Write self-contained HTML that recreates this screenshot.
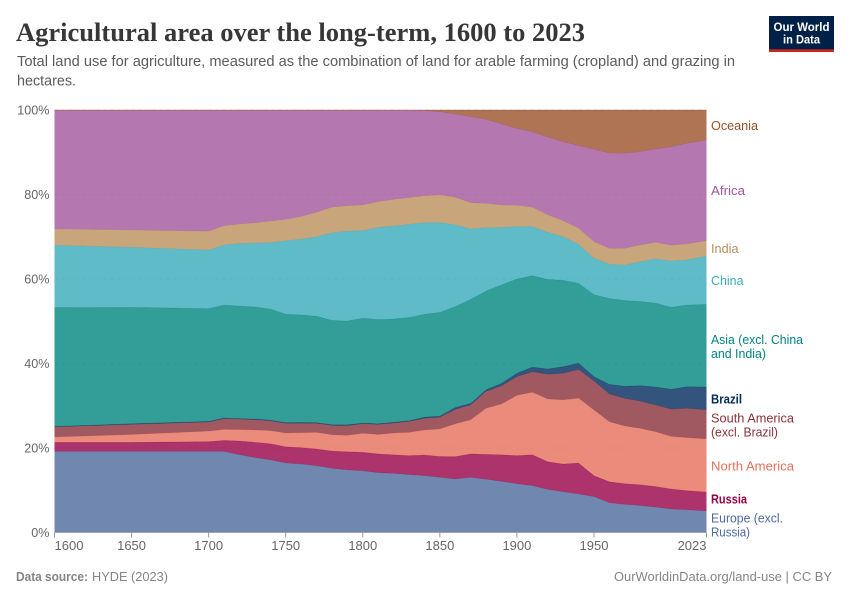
<!DOCTYPE html>
<html lang="en">
<head>
<meta charset="utf-8">
<title>Agricultural area over the long-term, 1600 to 2023</title>
<style>
  html, body { margin: 0; padding: 0; background: #fff; }
  svg { display: block; font-family: "Liberation Sans", sans-serif; }
  .legend text { font-size: 12.5px; }
</style>
</head>
<body>
<svg id="chart" xmlns="http://www.w3.org/2000/svg" width="850" height="600" viewBox="0 0 850 600">
  <rect x="0" y="0" width="850" height="600" fill="#ffffff"/>

  <text x="16" y="41" font-family="'Liberation Serif', serif" font-weight="bold" font-size="26.5" fill="#373737" textLength="569" lengthAdjust="spacingAndGlyphs">Agricultural area over the long-term, 1600 to 2023</text>
  <text x="17" y="66" font-size="14.5" fill="#5b5b5b" textLength="718" lengthAdjust="spacingAndGlyphs">Total land use for agriculture, measured as the combination of land for arable farming (cropland) and grazing in</text>
  <text x="17" y="85.5" font-size="14.5" fill="#5b5b5b" textLength="59" lengthAdjust="spacingAndGlyphs">hectares.</text>

  <g>
    <rect x="769" y="16" width="65" height="36" fill="#002147"/>
    <rect x="769" y="49.3" width="65" height="2.7" fill="#ce261e"/>
    <text x="801.5" y="31" text-anchor="middle" font-size="12" font-weight="bold" fill="#ffffff" textLength="56" lengthAdjust="spacingAndGlyphs">Our World</text>
    <text x="801.5" y="43.5" text-anchor="middle" font-size="12" font-weight="bold" fill="#ffffff" textLength="37" lengthAdjust="spacingAndGlyphs">in Data</text>
  </g>

  <g id="grid"></g>
  <g id="areas"></g>
  <g id="yaxis"></g>
  <g id="xaxis"></g>

  <g class="legend">
    <text x="711" y="129.8" fill="#9a5129" textLength="47" lengthAdjust="spacingAndGlyphs">Oceania</text>
    <text x="711" y="195" fill="#a2559c" textLength="34" lengthAdjust="spacingAndGlyphs">Africa</text>
    <text x="711" y="252.8" fill="#bc8e5a" textLength="27.5" lengthAdjust="spacingAndGlyphs">India</text>
    <text x="711" y="285.2" fill="#38aaba" textLength="32.5" lengthAdjust="spacingAndGlyphs">China</text>
    <text x="711" y="343.8" fill="#00847e" textLength="92" lengthAdjust="spacingAndGlyphs">Asia (excl. China</text>
    <text x="711" y="357.8" fill="#00847e" textLength="55" lengthAdjust="spacingAndGlyphs">and India)</text>
    <text x="711" y="403.3" fill="#00295b" font-weight="bold" textLength="31" lengthAdjust="spacingAndGlyphs">Brazil</text>
    <text x="711" y="422.6" fill="#883039" textLength="83" lengthAdjust="spacingAndGlyphs">South America</text>
    <text x="711" y="436.6" fill="#883039" textLength="67" lengthAdjust="spacingAndGlyphs">(excl. Brazil)</text>
    <text x="711" y="470.4" fill="#e56e5a" textLength="83" lengthAdjust="spacingAndGlyphs">North America</text>
    <text x="711" y="503.6" fill="#970046" font-weight="bold" textLength="36" lengthAdjust="spacingAndGlyphs">Russia</text>
    <text x="711" y="522.4" fill="#4c6a9c" textLength="72" lengthAdjust="spacingAndGlyphs">Europe (excl.</text>
    <text x="711" y="536.4" fill="#4c6a9c" textLength="39" lengthAdjust="spacingAndGlyphs">Russia)</text>
  </g>

  <text x="16" y="581" font-size="12.5" font-weight="bold" fill="#858585" textLength="72" lengthAdjust="spacingAndGlyphs">Data source:</text>
  <text x="92" y="581" font-size="12.5" fill="#858585" textLength="76" lengthAdjust="spacingAndGlyphs">HYDE (2023)</text>
  <text x="614" y="581" font-size="12.5" fill="#858585" textLength="218" lengthAdjust="spacingAndGlyphs">OurWorldinData.org/land-use | CC BY</text>
</svg>

<script>
const years = [1600,1650,1700,1710,1720,1730,1740,1750,1760,1770,1780,1790,1800,1810,1820,1830,1840,1850,1860,1870,1880,1890,1900,1910,1920,1930,1940,1950,1960,1970,1980,1990,2000,2010,2023];

const europe = [19.2,19.2,19.2,19.2,18.4,17.75,17.2,16.45,16.2,15.8,15.2,14.8,14.6,14.15,14.0,13.7,13.45,13.05,12.65,13.05,12.6,12.1,11.55,11.1,10.2,9.65,9.1,8.5,7.05,6.65,6.4,6.0,5.55,5.4,5.1];
const russia = [2.15,2.15,2.3,2.6,3.25,3.6,3.8,3.85,3.9,3.95,4.1,4.3,4.4,4.45,4.4,4.5,4.9,4.95,5.3,5.55,5.9,6.3,6.65,7.3,6.55,6.55,7.35,4.95,4.95,4.9,4.9,4.9,4.75,4.5,4.5];
const northAmerica = [1.25,1.85,2.5,2.6,2.7,2.9,3.1,3.25,3.5,3.95,3.85,3.9,4.5,4.6,5.15,5.5,5.9,6.5,7.75,8.1,10.9,12.0,14.25,14.8,14.85,15.2,15.35,15.55,14.2,13.65,13.35,12.95,12.45,12.55,12.55];
const southAmerica = [2.4,2.4,2.15,2.55,2.5,2.45,2.35,2.3,2.25,2.15,2.2,2.3,2.25,2.4,2.35,2.6,2.75,2.8,3.45,3.5,4.0,4.3,4.45,4.85,5.85,6.3,6.8,6.85,6.6,6.55,6.45,6.35,6.45,6.95,6.9];
const brazil = [0.1,0.15,0.15,0.15,0.1,0.15,0.15,0.15,0.2,0.15,0.15,0.2,0.15,0.15,0.2,0.15,0.3,0.25,0.45,0.35,0.4,0.6,0.8,1.1,1.25,1.55,1.5,1.05,2.25,2.85,3.65,4.25,4.7,5.1,5.4];
const asiaExcl = [28.15,27.55,26.7,26.75,26.65,26.55,26.3,25.7,25.45,25.2,24.7,24.55,24.85,24.65,24.45,24.45,24.35,24.55,23.85,24.65,23.35,23.3,22.3,21.65,21.2,20.45,18.9,19.4,20.35,20.3,19.95,19.85,19.4,19.35,19.55];
const china = [14.75,14.2,13.85,14.2,14.8,15.1,15.7,17.35,17.95,18.8,20.75,21.3,20.7,21.8,22.0,22.05,21.7,21.25,19.35,16.65,15.0,13.6,12.4,11.6,11.15,10.3,9.2,8.6,8.1,8.4,9.4,10.5,10.95,10.65,11.45];
const india = [3.85,4.1,4.45,4.55,4.6,4.8,5.1,5.05,5.35,5.8,6.05,6.0,6.05,6.1,6.3,6.3,6.35,6.55,6.55,6.2,5.75,5.3,5.05,4.6,4.15,3.8,3.8,3.95,3.75,3.95,3.95,3.9,3.75,3.8,3.6];
const africa = [28.1,28.35,28.65,27.35,26.95,26.65,26.25,25.85,25.15,24.15,22.95,22.6,22.45,21.65,21.1,20.7,20.15,19.7,19.7,20.35,19.9,19.2,18.2,17.85,18.4,18.7,19.6,21.85,22.55,22.5,22.1,22.05,23.3,23.8,23.85];
const oceania = [0.05,0.05,0.05,0.05,0.05,0.05,0.05,0.05,0.05,0.05,0.05,0.05,0.05,0.05,0.05,0.05,0.15,0.4,0.95,1.6,2.2,3.3,4.35,5.15,6.4,7.5,8.4,9.3,10.2,10.25,9.85,9.25,8.7,7.9,7.1];

const yTicks = [0,20,40,60,80,100];
const xTicks = [1600,1650,1700,1750,1800,1850,1900,1950,2023];

const NS = 'http://www.w3.org/2000/svg';
const plotLeft = 54.5, plotRight = 706.5, plotTop = 110, plotBottom = 532.5;
const xScale = function (year) { return plotLeft + (year - years[0]) / (years[years.length - 1] - years[0]) * (plotRight - plotLeft); };
const yScale = function (pct) { return plotBottom - pct / 100 * (plotBottom - plotTop); };

const stackSeries = [
  { key: 'europe', values: europe, color: '#4c6a9c' },
  { key: 'russia', values: russia, color: '#970046' },
  { key: 'north-america', values: northAmerica, color: '#e56e5a' },
  { key: 'south-america', values: southAmerica, color: '#883039' },
  { key: 'brazil', values: brazil, color: '#00295b' },
  { key: 'asia', values: asiaExcl, color: '#00847e' },
  { key: 'china', values: china, color: '#38aaba' },
  { key: 'india', values: india, color: '#bc8e5a' },
  { key: 'africa', values: africa, color: '#a2559c' },
  { key: 'oceania', values: oceania, color: '#9a5129' }
];

const gridGroup = document.getElementById('grid');
const areaGroup = document.getElementById('areas');
const yAxisGroup = document.getElementById('yaxis');
const xAxisGroup = document.getElementById('xaxis');

yTicks.forEach(function (t) {
  if (t > 0) {
    const line = document.createElementNS(NS, 'line');
    
    
    line.setAttribute('x1', plotLeft);
    line.setAttribute('x2', plotRight);
    line.setAttribute('y1', yScale(t));
    line.setAttribute('y2', yScale(t));
    line.setAttribute('stroke', '#dddddd');
    line.setAttribute('stroke-dasharray', '3,4');
    gridGroup.appendChild(line);
  }
  const label = document.createElementNS(NS, 'text');
  
  
  label.setAttribute('x', plotLeft - 5);
  label.setAttribute('y', yScale(t) + 4.5);
  label.setAttribute('text-anchor', 'end');
  label.setAttribute('font-size', '12.6');
  label.setAttribute('fill', '#666666');
  label.textContent = t + '%';
  yAxisGroup.appendChild(label);
});

const totals = years.map(function (_, i) {
  return stackSeries.reduce(function (sum, s) { return sum + s.values[i]; }, 0);
});
const baseline = years.map(function () { return 0; });

stackSeries.forEach(function (s) {
  const upper = s.values.map(function (v, i) { return baseline[i] + v / totals[i] * 100; });
  const topPts = years.map(function (yr, i) { return xScale(yr).toFixed(2) + ',' + yScale(upper[i]).toFixed(2); });
  const lowPts = years.map(function (yr, i) { return xScale(yr).toFixed(2) + ',' + yScale(baseline[i]).toFixed(2); }).reverse();

  const area = document.createElementNS(NS, 'path');
  
  
  area.setAttribute('d', 'M' + topPts.join('L') + 'L' + lowPts.join('L') + 'Z');
  area.setAttribute('fill', s.color);
  area.setAttribute('fill-opacity', '0.8');
  areaGroup.appendChild(area);

  const edge = document.createElementNS(NS, 'path');
  
  
  edge.setAttribute('d', 'M' + topPts.join('L'));
  edge.setAttribute('fill', 'none');
  edge.setAttribute('stroke', s.color);
  edge.setAttribute('stroke-width', '0.5');
  edge.setAttribute('stroke-opacity', '0.7');
  areaGroup.appendChild(edge);

  upper.forEach(function (v, i) { baseline[i] = v; });
});

const axisLine = document.createElementNS(NS, 'line');


axisLine.setAttribute('x1', plotLeft);
axisLine.setAttribute('x2', plotRight);
axisLine.setAttribute('y1', plotBottom);
axisLine.setAttribute('y2', plotBottom);
axisLine.setAttribute('stroke', '#999999');
axisLine.setAttribute('stroke-width', '0.7');
xAxisGroup.appendChild(axisLine);

xTicks.forEach(function (yr, i) {
  const tick = document.createElementNS(NS, 'line');
  
  
  tick.setAttribute('x1', xScale(yr));
  tick.setAttribute('x2', xScale(yr));
  tick.setAttribute('y1', plotBottom);
  tick.setAttribute('y2', plotBottom + 5);
  tick.setAttribute('stroke', '#999999');
  xAxisGroup.appendChild(tick);

  const label = document.createElementNS(NS, 'text');
  
  
  const anchor = i === 0 ? 'start' : (i === xTicks.length - 1 ? 'end' : 'middle');
  label.setAttribute('x', xScale(yr));
  label.setAttribute('y', '550');
  label.setAttribute('text-anchor', anchor);
  label.setAttribute('font-size', '13');
  label.setAttribute('fill', '#666666');
  label.textContent = yr;
  xAxisGroup.appendChild(label);
});
</script>
</body>
</html>
